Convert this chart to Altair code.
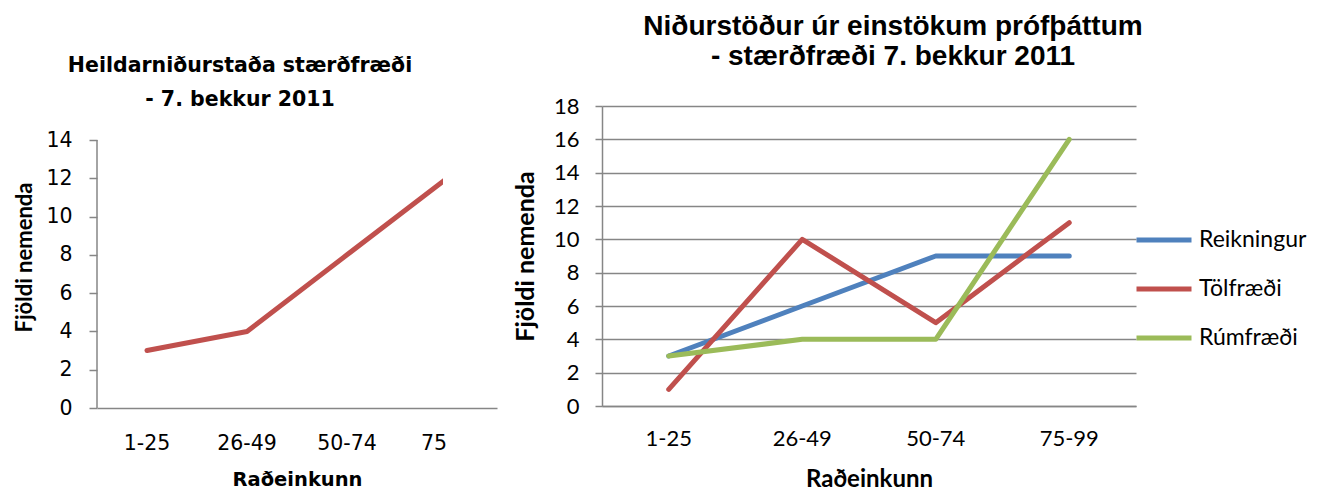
import altair as alt
import pandas as pd

# ---- data ----
categories = ["1-25", "26-49", "50-74", "75-99"]
total_counts = [3, 4, 8, 12]

series_names = ["Reikningur", "Tölfræði", "Rúmfræði"]
reikningur = [3, 6, 9, 9]
tolfraedi = [1, 10, 5, 11]
rumfraedi = [3, 4, 4, 16]

series_colors = ["#4F81BD", "#C0504D", "#9BBB59"]
total_color = "#C0504D"

left_y_ticks = [0, 2, 4, 6, 8, 10, 12, 14]
right_y_ticks = [0, 2, 4, 6, 8, 10, 12, 14, 16, 18]
left_y_max = 14

left_df = pd.DataFrame({"Raðeinkunn": categories, "Fjöldi": total_counts})
left_axis_df = pd.DataFrame({"Fjöldi": [left_y_max]})
rows = []
for name, vals in zip(series_names, [reikningur, tolfraedi, rumfraedi]):
    for c, v in zip(categories, vals):
        rows.append({"Raðeinkunn": c, "Fjöldi": v, "Þáttur": name})
right_df = pd.DataFrame(rows)

GRAY = "#868686"
LFONT = "DejaVu Sans"
RFONT = "Lato"

# plot heights: the left view shares its top edge with the right one, its
# scale reaches a bit above 14 so that 0..14 spans the same pixels as the source
LEFT_H = 302
RIGHT_H = 300
left_scale = alt.Scale(domain=[0, left_y_max * LEFT_H / 268], nice=False)

left_x = alt.X(
    "Raðeinkunn:N", sort=categories,
    scale=alt.Scale(type="band", domain=categories, range=[0, 400],
                    paddingInner=0, paddingOuter=0),
    axis=alt.Axis(
        title="Raðeinkunn", labelAngle=0, ticks=False, domain=False,
        labelFont=LFONT, labelFontSize=20.5, labelColor="black", labelPadding=25,
        labelExpr="datum.label == '75-99' ? '75' : datum.label",
        labelAlign=alt.condition("datum.value == '75-99'", alt.value("right"), alt.value("center")),
        titleFont=LFONT, titleFontSize=19.5, titleFontWeight="bold", titleColor="black",
        titlePadding=17,
    ),
)

left_axis_line = alt.Chart(left_axis_df).mark_rule(color=GRAY, strokeWidth=1.5).encode(
    x=alt.value(0),
    y=alt.Y("Fjöldi:Q", scale=left_scale),
    y2=alt.datum(0),
)

left_line = alt.Chart(left_df).mark_line(
    color=total_color, strokeWidth=5, strokeCap="round", strokeJoin="round", clip=True
).encode(
    x=left_x,
    y=alt.Y(
        "Fjöldi:Q", scale=left_scale,
        axis=alt.Axis(
            values=left_y_ticks, title="Fjöldi nemenda", domain=False,
            grid=True, gridColor=GRAY, gridWidth=1.5,
            gridOpacity=alt.condition("datum.value == 0", alt.value(1), alt.value(0)),
            tickColor=GRAY, tickWidth=1.5, tickSize=8,
            labelFont=LFONT, labelFontSize=20.5, labelColor="black", labelPadding=17,
            titleFont=RFONT, titleFontSize=22, titleFontWeight="bold", titleColor="black",
            titlePadding=9,
        ),
    ),
)

left = alt.layer(left_axis_line, left_line).properties(
    width=346, height=LEFT_H,
    title=alt.TitleParams(
        text=["Heildarniðurstaða stærðfræði", "- 7. bekkur 2011"],
        font=LFONT, fontSize=20.5, fontWeight="bold", color="black",
        lineHeight=34, anchor="middle", frame="group", dx=-30, offset=-4,
    ),
)

# ---- right chart ----
right = alt.Chart(right_df).mark_line(
    strokeWidth=5, strokeCap="round", strokeJoin="round"
).encode(
    x=alt.X(
        "Raðeinkunn:N", sort=categories,
        scale=alt.Scale(type="band", domain=categories, paddingInner=0, paddingOuter=0),
        axis=alt.Axis(
            title="Raðeinkunn", labelAngle=0, ticks=False,
            domainColor=GRAY, domainWidth=1.5,
            labelFont=RFONT, labelFontSize=22, labelColor="black", labelPadding=22,
            titleFont=RFONT, titleFontSize=24, titleFontWeight="bold", titleColor="black",
            titlePadding=18,
        ),
    ),
    y=alt.Y(
        "Fjöldi:Q",
        scale=alt.Scale(domain=[0, 18], nice=False),
        axis=alt.Axis(
            values=right_y_ticks, title="Fjöldi nemenda",
            grid=True, gridColor=GRAY, gridWidth=1.5,
            domainColor=GRAY, domainWidth=1.5, tickColor=GRAY, tickWidth=1.5, tickSize=7,
            labelFont=RFONT, labelFontSize=22, labelColor="black", labelPadding=16,
            titleFont=RFONT, titleFontSize=25, titleFontWeight="bold", titleColor="black",
            titlePadding=15,
        ),
    ),
    color=alt.Color(
        "Þáttur:N", sort=series_names,
        scale=alt.Scale(domain=series_names, range=series_colors),
        legend=alt.Legend(
            title=None, orient="none", legendX=1037, legendY=104,
            symbolType="stroke", symbolSize=3025, symbolStrokeWidth=5,
            labelFont=RFONT, labelFontSize=23, labelColor="black",
            labelOffset=5, rowPadding=7,
        ),
    ),
).properties(
    width=534, height=RIGHT_H,
    title=alt.TitleParams(
        text=["Niðurstöður úr einstökum prófþáttum", "- stærðfræði 7. bekkur 2011"],
        font="Liberation Sans", fontSize=28, fontWeight="bold", color="black",
        lineHeight=30, anchor="middle", frame="group", dx=24, offset=24,
    ),
)

chart = (
    alt.hconcat(left, right, spacing=16)
    .properties(padding={"left": 5, "top": 5, "right": 5, "bottom": 5})
    .configure(background="white")
    .configure_view(stroke=None)
)

chart.save("out.html", embed_options={"renderer": "svg", "actions": False})
